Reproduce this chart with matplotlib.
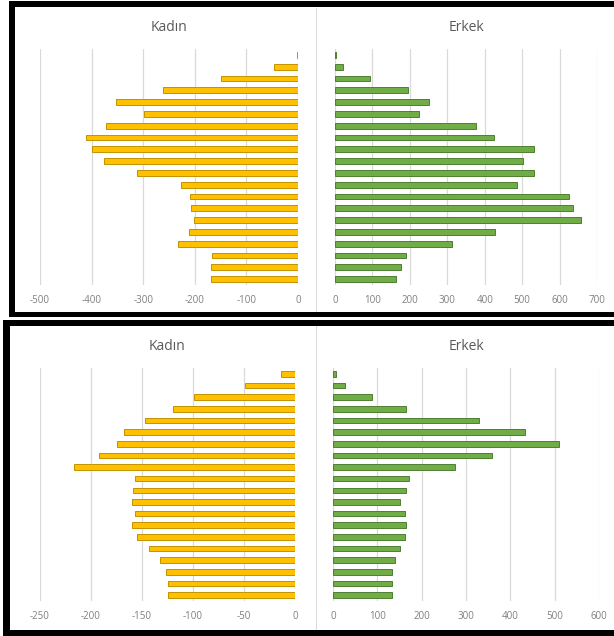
import matplotlib
matplotlib.use("Agg")
import matplotlib.pyplot as plt
from matplotlib.patches import Rectangle
import numpy as np

plt.rcParams['axes.unicode_minus'] = False
plt.rcParams['font.family'] = ['Open Sans', 'DejaVu Sans']

# veriler (yukarıdan aşağıya)
top_kadin = [2, 46, 150, 261, 352, 299, 373, 410, 400, 376,
             312, 226, 210, 207, 201, 211, 232, 166, 168, 168]
top_erkek = [3, 22, 94, 194, 252, 224, 378, 426, 531, 503,
             531, 485, 625, 637, 656, 428, 312, 189, 176, 163]
bot_kadin = [14, 49, 99, 120, 147, 168, 175, 192, 217, 157,
             159, 160, 157, 160, 155, 143, 132, 126, 125, 125]
bot_erkek = [6, 26, 87, 165, 329, 432, 509, 358, 275, 171,
             164, 151, 162, 165, 162, 151, 140, 134, 132, 132]

top_kadin_ticks = [-500, -400, -300, -200, -100, 0]
top_erkek_ticks = [0, 100, 200, 300, 400, 500, 600, 700]
bot_kadin_ticks = [-250, -200, -150, -100, -50, 0]
bot_erkek_ticks = [0, 100, 200, 300, 400, 500, 600]

W, H = 614, 636
fig = plt.figure(figsize=(W / 100, H / 100), dpi=100)

YELLOW, YELLOW_EDGE = '#FFC000', '#C29200'
GREEN, GREEN_EDGE = '#70AD47', '#4E7F31'


def px_axes(x0, y0, x1, y1):
    # piksel koordinatlarından eksen oluştur
    return fig.add_axes([x0 / W, 1 - y1 / H, (x1 - x0) / W, (y1 - y0) / H])


def black(x0, y0, x1, y1, color='black'):
    fig.add_artist(Rectangle((x0 / W, 1 - y1 / H), (x1 - x0) / W, (y1 - y0) / H,
                             transform=fig.transFigure, color=color, lw=0))


def draw(ax, vals, ticks, title, color, edge, negative):
    y = np.arange(len(vals))
    v = -np.array(vals) if negative else np.array(vals)
    ax.barh(y, v, height=0.48, color=color, edgecolor=edge, linewidth=0.7)
    ax.set_ylim(len(vals) - 0.5, -0.5)
    ax.set_xlim(ticks[0], ticks[-1])
    ax.set_xticks(ticks)
    ax.set_yticks([])
    ax.grid(axis='x', color='#D9D9D9', linewidth=0.9)
    ax.set_axisbelow(True)
    for s in ax.spines.values():
        s.set_visible(False)
    ax.tick_params(axis='x', length=0, labelsize=7, labelcolor='#7F7F7F', pad=7)
    ax.set_title(title, fontsize=10, color='#595959', pad=13)


ax1 = px_axes(40, 49, 298, 285)
draw(ax1, top_kadin, top_kadin_ticks, 'Kadın', YELLOW, YELLOW_EDGE, True)
ax2 = px_axes(335, 49, 597, 285)
draw(ax2, top_erkek, top_erkek_ticks, 'Erkek', GREEN, GREEN_EDGE, False)
ax3 = px_axes(40, 368, 295, 601)
draw(ax3, bot_kadin, bot_kadin_ticks, 'Kadın', YELLOW, YELLOW_EDGE, True)
ax4 = px_axes(333, 368, 599, 601)
draw(ax4, bot_erkek, bot_erkek_ticks, 'Erkek', GREEN, GREEN_EDGE, False)

# panel ayırıcı çizgiler
black(315.5, 8, 316.5, 312, color='#D9D9D9')
black(315.5, 326, 316.5, 630, color='#D9D9D9')

# siyah çerçeveler
black(9, 1, 614, 7)
black(9, 1, 15, 317)
black(9, 312, 614, 317)
black(3, 320, 614, 326)
black(3, 320, 10, 636)
black(3, 630, 614, 636)

fig.savefig('out.png', dpi=100)
